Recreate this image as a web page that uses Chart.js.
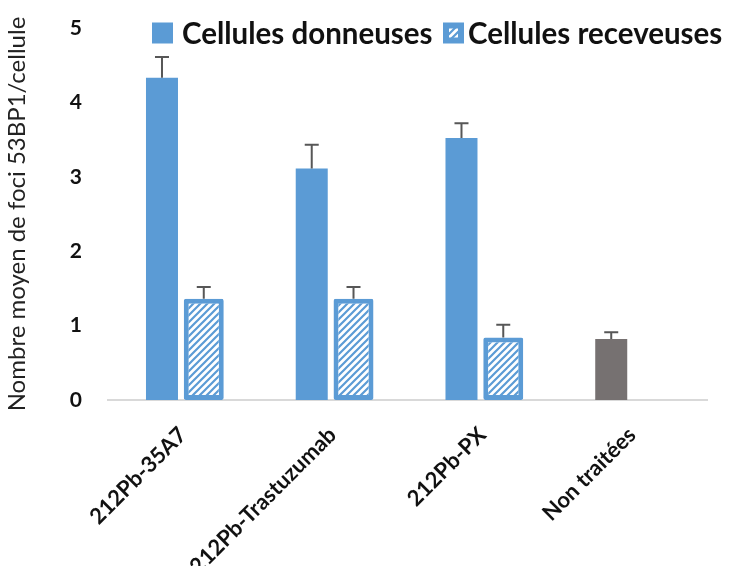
<!DOCTYPE html>
<html>
<head>
<meta charset="utf-8">
<script src="https://cdn.jsdelivr.net/npm/chart.js@4.4.1/dist/chart.umd.min.js"></script>
<style>
    html, body { margin: 0; padding: 0; background: #fff; overflow: hidden; }
    #wrap { width: 729px; height: 566px; position: relative; }
</style>
</head>
<body>
<div id="wrap"><canvas id="fociChart"></canvas></div>
<script>
const categories = ['212Pb-35A7', '212Pb-Trastuzumab', '212Pb-PX', 'Non traitées'];
const donneuses = [4.33, 3.11, 3.52, 0.82];
const donneusesErr = [0.28, 0.32, 0.20, 0.09];
const receveuses = [1.36, 1.36, 0.84, null];
const receveusesErr = [0.16, 0.16, 0.17, null];
const seriesNames = ['Cellules donneuses', 'Cellules receveuses'];
const yTicks = [0, 1, 2, 3, 4, 5];

const BLUE = '#5B9BD5';
const GREY = '#767171';
const FONT = 'Lato';

const canvas = document.getElementById('fociChart');
const ctx = canvas.getContext('2d');

// diagonal blue stripes on white for the recipient-cell bars
function makeHatch() {
    const tile = document.createElement('canvas');
    tile.width = 7;
    tile.height = 7;
    const g = tile.getContext('2d');
    g.fillStyle = '#fff';
    g.fillRect(0, 0, 7, 7);
    g.strokeStyle = BLUE;
    g.lineWidth = 2.2;
    g.beginPath();
    g.moveTo(-1, 8); g.lineTo(8, -1);
    g.moveTo(-1, 1); g.lineTo(1, -1);
    g.moveTo(6, 8); g.lineTo(8, 6);
    g.stroke();
    return ctx.createPattern(tile, 'repeat');
}
const hatch = makeHatch();

// vertical error bars with a cap, drawn on top of each bar
const errorBars = {
    id: 'errorBars',
    afterDatasetsDraw(chart) {
        const c = chart.ctx;
        const yScale = chart.scales.y;
        chart.data.datasets.forEach((ds, di) => {
            const meta = chart.getDatasetMeta(di);
            meta.data.forEach((bar, i) => {
                const v = ds.data[i];
                const e = ds.errors[i];
                if (v == null || e == null) return;
                const yTop = yScale.getPixelForValue(v + e);
                const yVal = yScale.getPixelForValue(v);
                c.save();
                c.strokeStyle = '#575757';
                c.lineWidth = 2;
                c.beginPath();
                c.moveTo(bar.x, yVal);
                c.lineTo(bar.x, yTop);
                c.moveTo(bar.x - 7, yTop);
                c.lineTo(bar.x + 7, yTop);
                c.stroke();
                c.restore();
            });
        });
    }
};

// legend sits at the top right, over the plot area
const legendBox = {
    id: 'legendBox',
    afterDraw(chart) {
        const c = chart.ctx;
        const box = 21;
        const yMid = 33;
        c.save();
        c.font = `bold 29.5px ${FONT}`;
        c.textBaseline = 'middle';

        c.fillStyle = BLUE;
        c.fillRect(152, yMid - box / 2, box, box);

        c.fillRect(443, yMid - box / 2, box, box);
        c.fillStyle = hatch;
        c.fillRect(443 + 6, yMid - box / 2 + 6, box - 12, box - 12);

        c.fillStyle = '#111';
        c.fillText(seriesNames[0], 182, yMid + 1);
        c.fillText(seriesNames[1], 468, yMid + 1);
        c.restore();
    }
};

new Chart(ctx, {
    type: 'bar',
    data: {
        labels: categories,
        datasets: [{
            label: seriesNames[0],
            data: donneuses,
            errors: donneusesErr,
            backgroundColor: [BLUE, BLUE, BLUE, GREY],
            borderWidth: 0,
            barPercentage: 0.766,
            categoryPercentage: 0.558
        }, {
            label: seriesNames[1],
            data: receveuses,
            errors: receveusesErr,
            backgroundColor: hatch,
            borderColor: BLUE,
            borderWidth: 5,
            borderSkipped: false,
            borderRadius: 2,
            barPercentage: 0.957,
            categoryPercentage: 0.558
        }]
    },
    options: {
        responsive: true,
        maintainAspectRatio: false,
        animation: false,
        layout: { padding: { top: 28, right: 22, left: 0, bottom: 0 } },
        plugins: {
            legend: { display: false },
            tooltip: { enabled: false }
        },
        scales: {
            x: {
                grid: { display: false, drawTicks: false },
                border: { color: '#d9d9d9', width: 2 },
                ticks: {
                    font: { family: FONT, size: 22, weight: 'bold' },
                    color: '#111',
                    minRotation: 45,
                    maxRotation: 45,
                    autoSkip: false,
                    padding: 22
                },
                afterFit: (scale) => { scale.height = 166; }
            },
            y: {
                min: 0,
                max: 5,
                afterBuildTicks: (scale) => { scale.ticks = yTicks.map(v => ({ value: v })); },
                // invisible tick marks hold the labels away from the bars
                grid: { display: false, drawTicks: true, tickLength: 24, tickColor: 'rgba(0,0,0,0)' },
                border: { display: false },
                ticks: {
                    font: { family: FONT, size: 21, weight: 'bold' },
                    color: '#111',
                    padding: 2
                },
                title: {
                    display: true,
                    text: 'Nombre moyen de foci 53BP1/cellule',
                    font: { family: FONT, size: 24 },
                    color: '#222',
                    padding: { top: 3, bottom: 0 }
                },
                afterFit: (scale) => { scale.width = 108; }
            }
        }
    },
    plugins: [errorBars, legendBox]
});
</script>
</body>
</html>
